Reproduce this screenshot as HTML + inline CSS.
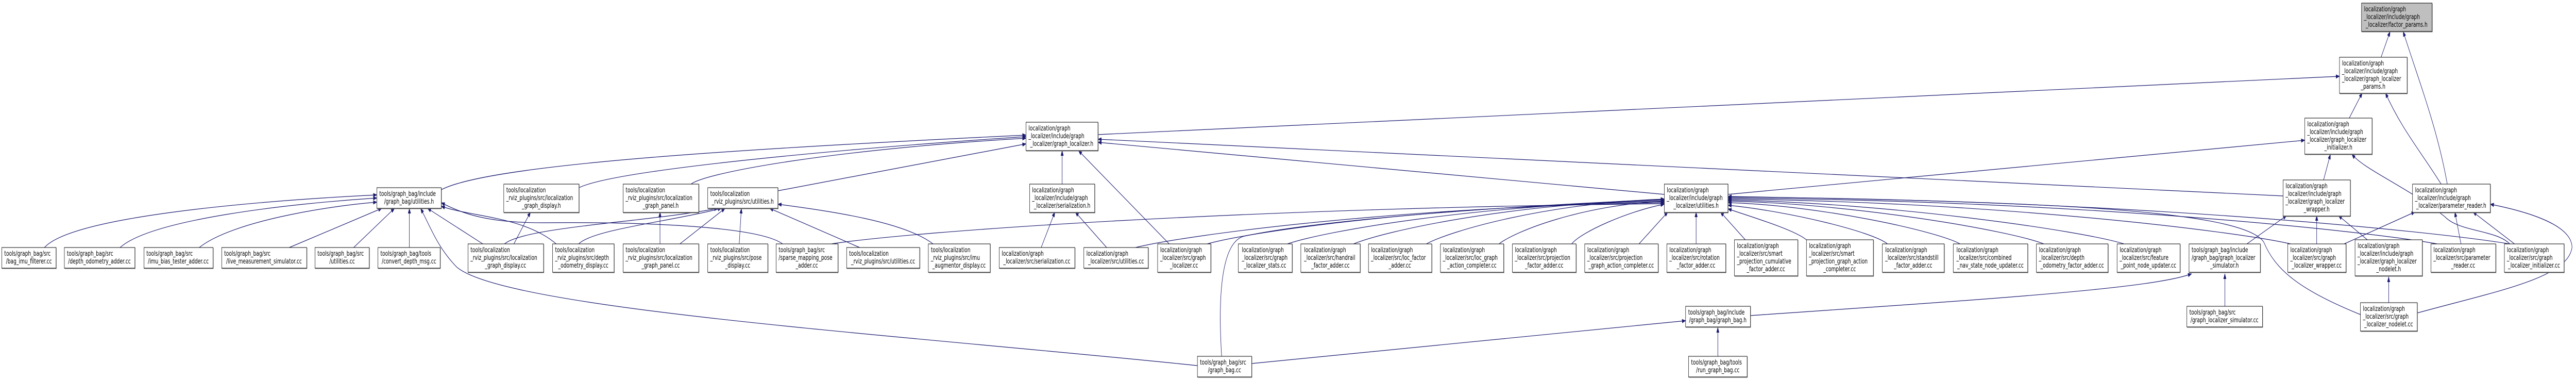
<!DOCTYPE html>
<html><head><meta charset="utf-8">
<style>
html,body{margin:0;padding:0;background:#fff;width:100%;height:100%;overflow:hidden}
svg{display:block;width:100vw;height:100vh}
text{font-family:"DejaVu Sans","Liberation Sans",sans-serif;font-size:13px;fill:#000}
.m{text-anchor:middle}
.e{fill:none;stroke:#191970;stroke-width:1.2}
.b{fill:#fff;stroke:#000;stroke-width:1}
.s{fill:none;stroke:#888;stroke-width:1}
</style></head><body>
<svg viewBox="0 0 7123 735" preserveAspectRatio="none" xmlns="http://www.w3.org/2000/svg">
<defs><marker id="a" markerWidth="11" markerHeight="8" refX="10" refY="4" orient="auto" markerUnits="userSpaceOnUse"><path d="M0,0 L11,4 L0,8z" fill="#191970"/></marker></defs>

<g marker-end="url(#a)">
<path class="e" d="M6584,111 L6609,61"/>
<path class="e" d="M6767,357 C6740,250 6690,160 6645,61"/>
<path class="e" d="M6496,229 L6532,180"/>
<path class="e" d="M6750,357 C6700,300 6640,250 6596,180"/>
<path class="e" d="M6425,349 L6444,299"/>
<path class="e" d="M6940,473 C6900,445 6800,450 6760,420 C6650,360 6540,330 6503,299"/>
<path class="e" d="M3036,261 L6469,148"/>
<path class="e" d="M4778,377 L6373,272"/>
<path class="e" d="M6313,380 L3036,270"/>
<path class="e" d="M4602,377 L3036,276"/>
<path class="e" d="M1220,368 C1350,320 2000,290 2837,262"/>
<path class="e" d="M1601,364 C1700,330 2300,290 2837,265"/>
<path class="e" d="M1911,357 C1950,335 2300,290 2837,268"/>
<path class="e" d="M2151,370 L2837,279"/>
<path class="e" d="M2937,357 L2937,292"/>
<path class="e" d="M3233,473 L2982,292"/>
<path class="e" d="M2879,480 L2917,411"/>
<path class="e" d="M3060,480 L2973,411"/>
<path class="e" d="M1395,473 C1450,440 1800,430 1985,404"/>
<path class="e" d="M1600,473 C1640,445 1850,430 1995,404"/>
<path class="e" d="M1880,473 L2005,404"/>
<path class="e" d="M2044,473 L2050,404"/>
<path class="e" d="M2377,480 L2128,404"/>
<path class="e" d="M2580,473 C2500,430 2300,410 2151,396"/>
<path class="e" d="M1421,473 L1467,411"/>
<path class="e" d="M1825,473 L1825,411"/>
<path class="e" d="M123,480 C200,420 700,390 1042,378"/>
<path class="e" d="M332,480 C420,425 800,395 1042,384"/>
<path class="e" d="M551,480 C640,430 900,400 1042,392"/>
<path class="e" d="M800,480 L1056,404"/>
<path class="e" d="M978,480 L1091,404"/>
<path class="e" d="M1132,480 L1132,404"/>
<path class="e" d="M1335,473 L1182,404"/>
<path class="e" d="M1538,473 C1450,420 1300,420 1220,400"/>
<path class="e" d="M3311,709 C2500,650 1400,600 1263,518 C1210,480 1190,440 1163,404"/>
<path class="e" d="M2164,473 C2100,440 1800,430 1500,432 C1350,432 1280,415 1220,393"/>
<path class="e" d="M2299,473 C2529,448 3450,403 4602,395"/>
<path class="e" d="M3140,480 C3286,455 3871,401 4602,393"/>
<path class="e" d="M3338,473 C3464,448 3970,399 4602,391"/>
<path class="e" d="M3560,473 C3664,448 4081,397 4602,389"/>
<path class="e" d="M3378,691 C3368,580 3375,470 3440,458 C3700,420 4300,395 4602,387"/>
<path class="e" d="M3743,473 C3829,448 4172,395 4602,387"/>
<path class="e" d="M3944,473 C4010,448 4273,394 4602,386"/>
<path class="e" d="M4145,473 C4191,448 4373,398 4602,390"/>
<path class="e" d="M4346,473 C4372,450 4500,410 4602,396"/>
<path class="e" d="M4532,473 L4612,411"/>
<path class="e" d="M4690,473 L4690,411"/>
<path class="e" d="M4826,465 L4757,411"/>
<path class="e" d="M4995,465 C4960,445 4840,420 4778,405"/>
<path class="e" d="M5219,473 C5180,450 4950,410 4778,398"/>
<path class="e" d="M5420,473 C5356,448 5030,398 4778,393"/>
<path class="e" d="M5651,473 C5564,448 5130,395 4778,390"/>
<path class="e" d="M5873,473 C5763,448 5220,393 4778,388"/>
<path class="e" d="M6334,473 C6178,448 5510,391 4778,386"/>
<path class="e" d="M6739,473 C6543,448 5760,389 4778,384"/>
<path class="e" d="M6939,473 C6723,448 5870,387 4778,382"/>
<path class="e" d="M6527,610 C6350,560 6290,520 6260,470 C6200,400 5500,390 4778,381"/>
<path class="e" d="M3461,705 L4661,622"/>
<path class="e" d="M4750,691 L4750,635"/>
<path class="e" d="M4840,612 C5500,580 5950,560 6060,531"/>
<path class="e" d="M6152,594 L6152,531"/>
<path class="e" d="M6213,473 L6323,418"/>
<path class="e" d="M6406,473 L6406,418"/>
<path class="e" d="M6482,473 L6678,411"/>
<path class="e" d="M6546,465 L6466,418"/>
<path class="e" d="M6605,587 L6605,537"/>
<path class="e" d="M6684,607 C6900,565 7100,540 7112,480 C7112,430 6950,405 6886,396"/>
<path class="e" d="M6805,473 L6788,411"/>
<path class="e" d="M6953,473 L6838,411"/>
</g>

<g>
<rect class="s" x="6531" y="7" width="195" height="55"/><rect x="6530" y="6" width="195" height="55" fill="#bfbfbf" stroke="#000"/>
<text x="6537" y="22">localization/graph</text><text x="6537" y="37">_localizer/include/graph</text><text class="m" x="6627" y="52">_localizer/factor_params.h</text>

<rect class="s" x="6470" y="112" width="187" height="70"/><rect class="b" x="6469" y="111" width="187" height="70"/>
<text x="6476" y="127">localization/graph</text><text x="6476" y="142">_localizer/include/graph</text><text x="6476" y="157">_localizer/graph_localizer</text><text class="m" x="6562" y="172">_params.h</text>

<rect class="s" x="2838" y="238" width="199" height="55"/><rect class="b" x="2837" y="237" width="199" height="55"/>
<text x="2844" y="253">localization/graph</text><text x="2844" y="268">_localizer/include/graph</text><text class="m" x="2936" y="283">_localizer/graph_localizer.h</text>

<rect class="s" x="6374" y="230" width="186" height="70"/><rect class="b" x="6373" y="229" width="186" height="70"/>
<text x="6380" y="245">localization/graph</text><text x="6380" y="260">_localizer/include/graph</text><text x="6380" y="275">_localizer/graph_localizer</text><text class="m" x="6466" y="290">_initializer.h</text>

<rect class="s" x="1043" y="365" width="178" height="40"/><rect class="b" x="1042" y="364" width="178" height="40"/>
<text x="1049" y="380">tools/graph_bag/include</text><text class="m" x="1131" y="395">/graph_bag/utilities.h</text>

<rect class="s" x="1394" y="358" width="208" height="55"/><rect class="b" x="1393" y="357" width="208" height="55"/>
<text x="1400" y="373">tools/localization</text><text x="1400" y="388">_rviz_plugins/src/localization</text><text class="m" x="1497" y="403">_graph_display.h</text>

<rect class="s" x="1724" y="358" width="209" height="55"/><rect class="b" x="1723" y="357" width="209" height="55"/>
<text x="1730" y="373">tools/localization</text><text x="1730" y="388">_rviz_plugins/src/localization</text><text class="m" x="1827" y="403">_graph_panel.h</text>

<rect class="s" x="1958" y="365" width="194" height="40"/><rect class="b" x="1957" y="364" width="194" height="40"/>
<text x="1964" y="380">tools/localization</text><text class="m" x="2054" y="395">_rviz_plugins/src/utilities.h</text>

<rect class="s" x="2848" y="358" width="180" height="55"/><rect class="b" x="2847" y="357" width="180" height="55"/>
<text x="2854" y="373">localization/graph</text><text x="2854" y="388">_localizer/include/graph</text><text class="m" x="2937" y="403">_localizer/serialization.h</text>

<rect class="s" x="4603" y="358" width="176" height="55"/><rect class="b" x="4602" y="357" width="176" height="55"/>
<text x="4609" y="373">localization/graph</text><text x="4609" y="388">_localizer/include/graph</text><text class="m" x="4690" y="403">_localizer/utilities.h</text>

<rect class="s" x="6314" y="350" width="186" height="70"/><rect class="b" x="6313" y="349" width="186" height="70"/>
<text x="6320" y="365">localization/graph</text><text x="6320" y="380">_localizer/include/graph</text><text x="6320" y="395">_localizer/graph_localizer</text><text class="m" x="6406" y="410">_wrapper.h</text>

<rect class="s" x="6672" y="358" width="215" height="55"/><rect class="b" x="6671" y="357" width="215" height="55"/>
<text x="6678" y="373">localization/graph</text><text x="6678" y="388">_localizer/include/graph</text><text class="m" x="6778" y="403">_localizer/parameter_reader.h</text>

<rect class="s" x="6" y="481" width="150" height="40"/><rect class="b" x="5" y="480" width="150" height="40"/>
<text x="12" y="496">tools/graph_bag/src</text><text class="m" x="80" y="511">/bag_imu_filterer.cc</text>

<rect class="s" x="179" y="481" width="195" height="40"/><rect class="b" x="178" y="480" width="195" height="40"/>
<text x="185" y="496">tools/graph_bag/src</text><text class="m" x="275" y="511">/depth_odometry_adder.cc</text>

<rect class="s" x="399" y="481" width="191" height="40"/><rect class="b" x="398" y="480" width="191" height="40"/>
<text x="405" y="496">tools/graph_bag/src</text><text class="m" x="493" y="511">/imu_bias_tester_adder.cc</text>

<rect class="s" x="614" y="481" width="235" height="40"/><rect class="b" x="613" y="480" width="235" height="40"/>
<text x="620" y="496">tools/graph_bag/src</text><text class="m" x="730" y="511">/live_measurement_simulator.cc</text>

<rect class="s" x="872" y="481" width="150" height="40"/><rect class="b" x="871" y="480" width="150" height="40"/>
<text x="878" y="496">tools/graph_bag/src</text><text class="m" x="946" y="511">/utilities.cc</text>

<rect class="s" x="1046" y="481" width="172" height="40"/><rect class="b" x="1045" y="480" width="172" height="40"/>
<text x="1052" y="496">tools/graph_bag/tools</text><text class="m" x="1131" y="511">/convert_depth_msg.cc</text>

<rect class="s" x="1295" y="474" width="209" height="55"/><rect class="b" x="1294" y="473" width="209" height="55"/>
<text x="1301" y="489">tools/localization</text><text x="1301" y="504">_rviz_plugins/src/localization</text><text class="m" x="1398" y="519">_graph_display.cc</text>

<rect class="s" x="1529" y="474" width="170" height="55"/><rect class="b" x="1528" y="473" width="170" height="55"/>
<text x="1535" y="489">tools/localization</text><text x="1535" y="504">_rviz_plugins/src/depth</text><text class="m" x="1613" y="519">_odometry_display.cc</text>

<rect class="s" x="1724" y="474" width="209" height="55"/><rect class="b" x="1723" y="473" width="209" height="55"/>
<text x="1730" y="489">tools/localization</text><text x="1730" y="504">_rviz_plugins/src/localization</text><text class="m" x="1827" y="519">_graph_panel.cc</text>

<rect class="s" x="1958" y="474" width="166" height="55"/><rect class="b" x="1957" y="473" width="166" height="55"/>
<text x="1964" y="489">tools/localization</text><text x="1964" y="504">_rviz_plugins/src/pose</text><text class="m" x="2040" y="519">_display.cc</text>

<rect class="s" x="2147" y="474" width="171" height="55"/><rect class="b" x="2146" y="473" width="171" height="55"/>
<text x="2153" y="489">tools/graph_bag/src</text><text x="2153" y="504">/sparse_mapping_pose</text><text class="m" x="2231" y="519">_adder.cc</text>

<rect class="s" x="2342" y="481" width="202" height="40"/><rect class="b" x="2341" y="480" width="202" height="40"/>
<text x="2348" y="496">tools/localization</text><text class="m" x="2442" y="511">_rviz_plugins/src/utilities.cc</text>

<rect class="s" x="2568" y="474" width="171" height="55"/><rect class="b" x="2567" y="473" width="171" height="55"/>
<text x="2574" y="489">tools/localization</text><text x="2574" y="504">_rviz_plugins/src/imu</text><text class="m" x="2652" y="519">_augmentor_display.cc</text>

<rect class="s" x="2764" y="481" width="209" height="40"/><rect class="b" x="2763" y="480" width="209" height="40"/>
<text x="2770" y="496">localization/graph</text><text class="m" x="2867" y="511">_localizer/src/serialization.cc</text>

<rect class="s" x="2998" y="481" width="178" height="40"/><rect class="b" x="2997" y="480" width="178" height="40"/>
<text x="3004" y="496">localization/graph</text><text class="m" x="3086" y="511">_localizer/src/utilities.cc</text>

<rect class="s" x="3202" y="474" width="147" height="55"/><rect class="b" x="3201" y="473" width="147" height="55"/>
<text x="3208" y="489">localization/graph</text><text x="3208" y="504">_localizer/src/graph</text><text class="m" x="3274" y="519">_localizer.cc</text>

<rect class="s" x="3425" y="474" width="149" height="55"/><rect class="b" x="3424" y="473" width="149" height="55"/>
<text x="3434" y="489">localization/graph</text><text x="3434" y="504">_localizer/src/graph</text><text class="m" x="3498" y="519">_localizer_stats.cc</text>

<rect class="s" x="3598" y="474" width="164" height="55"/><rect class="b" x="3597" y="473" width="164" height="55"/>
<text x="3606" y="489">localization/graph</text><text x="3606" y="504">_localizer/src/handrail</text><text class="m" x="3679" y="519">_factor_adder.cc</text>

<rect class="s" x="3785" y="474" width="175" height="55"/><rect class="b" x="3784" y="473" width="175" height="55"/>
<text x="3791" y="489">localization/graph</text><text x="3791" y="504">_localizer/src/loc_factor</text><text class="m" x="3871" y="519">_adder.cc</text>

<rect class="s" x="3984" y="474" width="175" height="55"/><rect class="b" x="3983" y="473" width="175" height="55"/>
<text x="3990" y="489">localization/graph</text><text x="3990" y="504">_localizer/src/loc_graph</text><text class="m" x="4070" y="519">_action_completer.cc</text>

<rect class="s" x="4183" y="474" width="176" height="55"/><rect class="b" x="4182" y="473" width="176" height="55"/>
<text x="4189" y="489">localization/graph</text><text x="4189" y="504">_localizer/src/projection</text><text class="m" x="4270" y="519">_factor_adder.cc</text>

<rect class="s" x="4383" y="474" width="203" height="55"/><rect class="b" x="4382" y="473" width="203" height="55"/>
<text x="4389" y="489">localization/graph</text><text x="4389" y="504">_localizer/src/projection</text><text class="m" x="4483" y="519">_graph_action_completer.cc</text>

<rect class="s" x="4610" y="474" width="163" height="55"/><rect class="b" x="4609" y="473" width="163" height="55"/>
<text x="4616" y="489">localization/graph</text><text x="4616" y="504">_localizer/src/rotation</text><text class="m" x="4690" y="519">_factor_adder.cc</text>

<rect class="s" x="4797" y="466" width="175" height="70"/><rect class="b" x="4796" y="465" width="175" height="70"/>
<text x="4803" y="481">localization/graph</text><text x="4803" y="496">_localizer/src/smart</text><text x="4803" y="511">_projection_cumulative</text><text class="m" x="4883" y="526">_factor_adder.cc</text>

<rect class="s" x="4996" y="466" width="185" height="70"/><rect class="b" x="4995" y="465" width="185" height="70"/>
<text x="5002" y="481">localization/graph</text><text x="5002" y="496">_localizer/src/smart</text><text x="5002" y="511">_projection_graph_action</text><text class="m" x="5087" y="526">_completer.cc</text>

<rect class="s" x="5206" y="474" width="171" height="55"/><rect class="b" x="5205" y="473" width="171" height="55"/>
<text x="5213" y="489">localization/graph</text><text x="5213" y="504">_localizer/src/standstill</text><text class="m" x="5290" y="519">_factor_adder.cc</text>

<rect class="s" x="5402" y="474" width="206" height="55"/><rect class="b" x="5401" y="473" width="206" height="55"/>
<text x="5410" y="489">localization/graph</text><text x="5410" y="504">_localizer/src/combined</text><text class="m" x="5504" y="519">_nav_state_node_updater.cc</text>

<rect class="s" x="5632" y="474" width="198" height="55"/><rect class="b" x="5631" y="473" width="198" height="55"/>
<text x="5638" y="489">localization/graph</text><text x="5638" y="504">_localizer/src/depth</text><text class="m" x="5730" y="519">_odometry_factor_adder.cc</text>

<rect class="s" x="5855" y="474" width="174" height="55"/><rect class="b" x="5854" y="473" width="174" height="55"/>
<text x="5861" y="489">localization/graph</text><text x="5861" y="504">_localizer/src/feature</text><text class="m" x="5941" y="519">_point_node_updater.cc</text>

<rect class="s" x="6054" y="474" width="197" height="55"/><rect class="b" x="6053" y="473" width="197" height="55"/>
<text x="6060" y="489">tools/graph_bag/include</text><text x="6060" y="504">/graph_bag/graph_localizer</text><text class="m" x="6151" y="519">_simulator.h</text>

<rect class="s" x="6327" y="474" width="161" height="55"/><rect class="b" x="6326" y="473" width="161" height="55"/>
<text x="6333" y="489">localization/graph</text><text x="6333" y="504">_localizer/src/graph</text><text class="m" x="6406" y="519">_localizer_wrapper.cc</text>

<rect class="s" x="6513" y="466" width="186" height="70"/><rect class="b" x="6512" y="465" width="186" height="70"/>
<text x="6519" y="481">localization/graph</text><text x="6519" y="496">_localizer/include/graph</text><text x="6519" y="511">_localizer/graph_localizer</text><text class="m" x="6605" y="526">_nodelet.h</text>

<rect class="s" x="6723" y="474" width="179" height="55"/><rect class="b" x="6722" y="473" width="179" height="55"/>
<text x="6729" y="489">localization/graph</text><text x="6729" y="504">_localizer/src/parameter</text><text class="m" x="6811" y="519">_reader.cc</text>

<rect class="s" x="6926" y="474" width="165" height="55"/><rect class="b" x="6925" y="473" width="165" height="55"/>
<text x="6932" y="489">localization/graph</text><text x="6932" y="504">_localizer/src/graph</text><text class="m" x="7007" y="519">_localizer_initializer.cc</text>

<rect class="s" x="4662" y="595" width="179" height="40"/><rect class="b" x="4661" y="594" width="179" height="40"/>
<text x="4668" y="610">tools/graph_bag/include</text><text class="m" x="4750" y="625">/graph_bag/graph_bag.h</text>

<rect class="s" x="6048" y="595" width="209" height="40"/><rect class="b" x="6047" y="594" width="209" height="40"/>
<text x="6054" y="610">tools/graph_bag/src</text><text class="m" x="6151" y="625">/graph_localizer_simulator.cc</text>

<rect class="s" x="6528" y="588" width="157" height="55"/><rect class="b" x="6527" y="587" width="157" height="55"/>
<text x="6534" y="603">localization/graph</text><text x="6534" y="618">_localizer/src/graph</text><text class="m" x="6605" y="633">_localizer_nodelet.cc</text>

<rect class="s" x="3312" y="692" width="150" height="40"/><rect class="b" x="3311" y="691" width="150" height="40"/>
<text x="3318" y="707">tools/graph_bag/src</text><text class="m" x="3386" y="722">/graph_bag.cc</text>

<rect class="s" x="4670" y="692" width="162" height="40"/><rect class="b" x="4669" y="691" width="162" height="40"/>
<text x="4676" y="707">tools/graph_bag/tools</text><text class="m" x="4750" y="722">/run_graph_bag.cc</text>
</g>
</svg>
</body></html>
